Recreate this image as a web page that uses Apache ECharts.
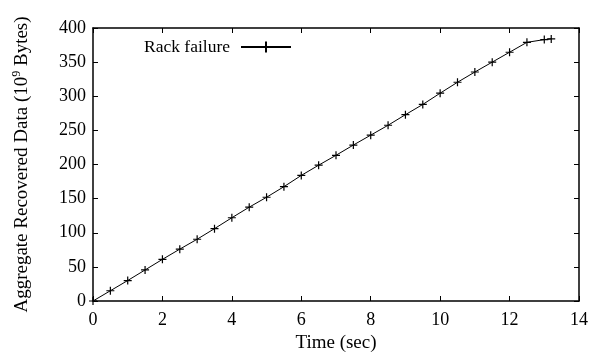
<!DOCTYPE html>
<html>
<head>
<meta charset="utf-8">
<script src="https://cdn.jsdelivr.net/npm/echarts@6/dist/echarts.min.js"></script>
<style>
  html, body { margin: 0; padding: 0; background: #fff; }
  #chart { width: 592px; height: 358px; }
</style>
</head>
<body>
<div id="chart"></div>
<script>
// time in seconds, recovered data in 10^9 bytes
const times = [0, 0.5, 1, 1.5, 2, 2.5, 3, 3.5, 4, 4.5, 5, 5.5, 6, 6.5, 7, 7.5, 8, 8.5, 9, 9.5, 10, 10.5, 11, 11.5, 12, 12.5, 13, 13.2];
const recovered = [0, 15, 30, 45.5, 61, 76, 90.5, 106, 122, 137.5, 152, 167.5, 184, 199, 213.5, 228.5, 243, 257.5, 273, 288, 304.5, 320.5, 335.5, 350, 364.5, 379, 383, 384];
const seriesName = 'Rack failure';

const font = 'Liberation Serif, Times New Roman, serif';
const plus = 'path://M0,4L8,4M4,0L4,8';

const chart = echarts.init(document.getElementById('chart'), null, { renderer: 'canvas' });

const frameLine = { show: true, onZero: false, lineStyle: { color: '#000', width: 1.5 } };
const inTicks = { show: true, inside: true, length: 5, lineStyle: { color: '#000', width: 1 } };

const option = {
  animation: false,
  backgroundColor: '#fff',
  textStyle: { fontFamily: font, color: '#000' },
  grid: { left: 93, right: 13, top: 28, bottom: 54, containLabel: false },
  legend: {
    data: [seriesName],
    right: 295,
    top: 33,
    align: 'right',
    itemWidth: 50,
    itemHeight: 14,
    textStyle: { fontFamily: font, fontSize: 17.5, color: '#000', padding: [0, 6, 0, 0] }
  },
  xAxis: [
    {
      type: 'value',
      min: 0,
      max: 14,
      interval: 2,
      position: 'bottom',
      name: 'Time (sec)',
      nameLocation: 'middle',
      nameGap: 33,
      nameTextStyle: { fontFamily: font, fontSize: 19, color: '#000' },
      axisLine: frameLine,
      axisTick: inTicks,
      axisLabel: { fontFamily: font, fontSize: 18, color: '#000', margin: 10 },
      splitLine: { show: false }
    },
    {
      type: 'value',
      min: 0,
      max: 14,
      interval: 2,
      position: 'top',
      axisLine: frameLine,
      axisTick: inTicks,
      axisLabel: { show: false },
      splitLine: { show: false }
    }
  ],
  yAxis: [
    {
      type: 'value',
      min: 0,
      max: 400,
      interval: 50,
      position: 'left',
      name: 'Aggregate Recovered Data (10{sup|9} Bytes)',
      nameLocation: 'middle',
      nameGap: 60,
      nameTextStyle: {
        fontFamily: font,
        fontSize: 19,
        color: '#000',
        rich: {
          sup: { fontFamily: font, fontSize: 12, verticalAlign: 'top', padding: [0, 0, 10, 0] }
        }
      },
      axisLine: frameLine,
      axisTick: inTicks,
      axisLabel: { fontFamily: font, fontSize: 18, color: '#000', margin: 7 },
      splitLine: { show: false }
    },
    {
      type: 'value',
      min: 0,
      max: 400,
      interval: 50,
      position: 'right',
      axisLine: frameLine,
      axisTick: inTicks,
      axisLabel: { show: false },
      splitLine: { show: false }
    }
  ],
  series: [
    {
      name: seriesName,
      type: 'line',
      xAxisIndex: 0,
      yAxisIndex: 0,
      showSymbol: true,
      symbol: plus,
      symbolSize: 8,
      lineStyle: { color: '#000', width: 1 },
      itemStyle: { color: '#000', borderColor: '#000', borderWidth: 1.2 },
      data: times.map((t, i) => [t, recovered[i]])
    }
  ]
};

chart.setOption(option);
</script>
</body>
</html>
